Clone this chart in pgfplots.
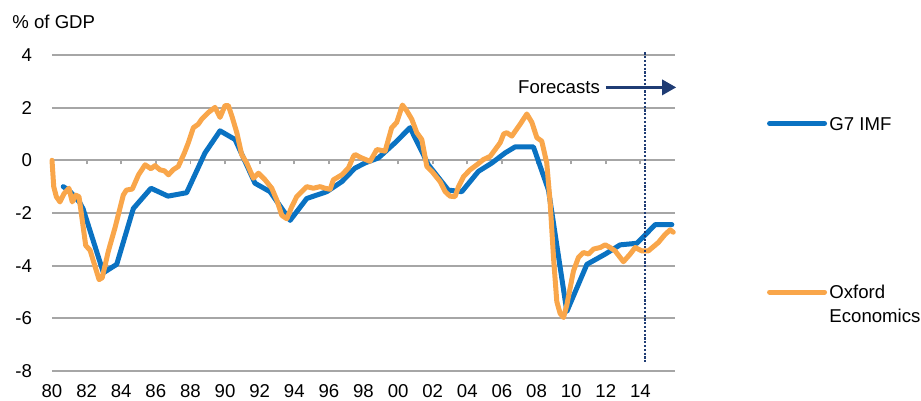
\documentclass[border=0pt]{standalone}
\usepackage{fontspec}
\setmainfont{Liberation Sans}
\usepackage{pgfplots}
\pgfplotsset{compat=1.18}
\usetikzlibrary{arrows.meta}
\definecolor{imfblue}{HTML}{0A72C2}
\definecolor{oxorange}{HTML}{F9A64A}
\definecolor{navy}{HTML}{1F3C74}
\definecolor{gridgray}{HTML}{A6A6A6}
\newcommand{\chartfont}{\fontsize{9.3}{11.8}\selectfont}

\pgfplotstableread{
x y
1980.65 -1.00
1981.00 -1.15
1981.60 -1.60
1981.80 -1.85
1982.97 -4.27
1983.74 -3.95
1984.70 -1.83
1985.72 -1.06
1986.70 -1.36
1987.78 -1.23
1988.84 0.28
1989.71 1.12
1990.58 0.79
1991.73 -0.87
1992.60 -1.19
1993.76 -2.28
1994.72 -1.45
1995.88 -1.19
1996.75 -0.81
1997.50 -0.30
1998.09 -0.10
1998.86 0.09
1999.83 0.67
2000.69 1.24
2001.75 -0.17
2002.90 -1.13
2003.68 -1.19
2004.64 -0.42
2005.42 -0.10
2006.18 0.28
2006.76 0.51
2007.82 0.51
2008.69 -1.13
2009.75 -5.74
2010.91 -3.95
2011.97 -3.56
2012.83 -3.21
2013.80 -3.15
2014.86 -2.44
2015.82 -2.44
}\imf

\pgfplotstableread{
x y
1980.00 0.00
1980.10 -1.00
1980.25 -1.38
1980.46 -1.58
1980.70 -1.26
1980.98 -1.06
1981.17 -1.58
1981.37 -1.32
1981.56 -1.38
1981.75 -2.28
1981.95 -3.24
1982.20 -3.41
1982.45 -3.95
1982.72 -4.53
1982.90 -4.46
1983.26 -3.44
1983.65 -2.54
1984.12 -1.32
1984.30 -1.13
1984.64 -1.09
1985.00 -0.55
1985.38 -0.17
1985.72 -0.32
1985.95 -0.20
1986.24 -0.36
1986.50 -0.40
1986.73 -0.55
1987.00 -0.36
1987.30 -0.23
1987.65 0.28
1987.88 0.67
1988.17 1.24
1988.45 1.37
1988.65 1.56
1989.04 1.82
1989.42 2.01
1989.71 1.63
1990.00 2.08
1990.19 2.08
1990.39 1.69
1990.68 1.05
1990.96 0.22
1991.25 -0.10
1991.64 -0.68
1991.93 -0.49
1992.31 -0.74
1992.70 -1.06
1992.99 -1.51
1993.28 -2.09
1993.57 -2.22
1993.85 -1.77
1994.14 -1.38
1994.43 -1.19
1994.72 -1.00
1995.10 -1.06
1995.49 -1.00
1995.78 -1.06
1996.07 -1.10
1996.26 -0.74
1996.75 -0.55
1997.13 -0.29
1997.42 0.15
1997.51 0.22
1997.90 0.09
1998.38 -0.04
1998.77 0.41
1999.25 0.35
1999.63 1.24
1999.92 1.44
2000.25 2.10
2000.50 1.88
2000.79 1.56
2001.08 1.05
2001.37 0.79
2001.66 -0.23
2001.95 -0.42
2002.43 -0.81
2002.72 -1.19
2003.00 -1.36
2003.29 -1.38
2003.49 -1.00
2003.78 -0.62
2004.16 -0.36
2004.55 -0.17
2004.93 0.03
2005.32 0.15
2005.61 0.41
2005.90 0.67
2006.10 1.00
2006.28 1.05
2006.57 0.92
2007.05 1.37
2007.44 1.76
2007.73 1.44
2008.02 0.86
2008.30 0.73
2008.59 -0.10
2008.79 -1.64
2008.98 -3.69
2009.17 -5.36
2009.36 -5.81
2009.56 -5.97
2009.75 -5.49
2010.13 -4.21
2010.42 -3.69
2010.71 -3.50
2011.00 -3.56
2011.29 -3.37
2011.68 -3.31
2011.97 -3.21
2012.25 -3.31
2012.54 -3.44
2013.02 -3.85
2013.41 -3.56
2013.70 -3.31
2014.08 -3.44
2014.46 -3.44
2015.04 -3.12
2015.42 -2.82
2015.72 -2.64
2015.90 -2.73
}\oxford

\begin{document}
\begin{tikzpicture}
\begin{axis}[
  scale only axis, width=311.5pt, height=158pt,
  xmin=1980, xmax=2016, ymin=-8, ymax=4,
  enlargelimits=false,
  axis x line=middle, axis y line=left,
  hide obscured x ticks=false, hide obscured y ticks=false,
  x axis line style={-, draw=gridgray, line width=0.9pt},
  y axis line style={draw=none},
  xtick={1980,1982,...,2014},
  xticklabels={80,82,84,86,88,90,92,94,96,98,00,02,04,06,08,10,12,14},
  tick align=outside,
  major tick length=2pt,
  xtick style={draw=gridgray, line width=0.9pt},
  ytick={-8,-6,...,4},
  ytick style={draw=none},
  ymajorgrids, grid style={gridgray, line width=0.9pt},
  tick label style={font=\chartfont},
  /pgf/number format/assume math mode=true,
  xticklabel style={yshift=-106.8pt},
  yticklabel style={xshift=-4.5pt},
  clip=false,
  legend style={at={(rel axis cs:1.1375,0.83)}, anchor=north west, draw=none, fill=none,
    font=\chartfont, row sep=70.5pt, cells={anchor=base west},
    nodes={inner xsep=1.2pt}},
  legend image code/.code={\draw[#1, line width=2.5pt, line cap=round] (0pt,3.3pt) -- (27.5pt,3.3pt);},
]
\addplot[imfblue, line width=2.5pt, line join=round, line cap=round] table[x=x,y=y] {\imf};
\addlegendentry{G7 IMF}
\addplot[oxorange, line width=2.5pt, line join=round, line cap=round] table[x=x,y=y] {\oxford};
\addlegendentry{\begin{tabular}[t]{@{}l@{}}Oxford\\Economics\end{tabular}}
\draw[navy, line width=1.1pt, dash pattern=on 1.1pt off 0.8pt] (axis cs:2014.28,4.1) -- (axis cs:2014.28,-7.7);
\draw[navy, line width=1.5pt, -{Triangle[length=7pt,width=7.5pt]}] (axis cs:2012.0,2.77) -- (axis cs:2016.07,2.77);
\node[anchor=east, font=\chartfont, inner sep=0pt] at (axis cs:2011.68,2.77) {Forecasts};
\path (rel axis cs:0,0) ++(-20pt,174.5pt) node[anchor=west, font=\chartfont, inner sep=0pt] {\% of GDP};
\end{axis}
\pgfresetboundingbox
\path ([shift={(-26pt,-15pt)}]current axis.south west) rectangle ++(460.5pt,200.5pt);
\end{tikzpicture}
\end{document}
